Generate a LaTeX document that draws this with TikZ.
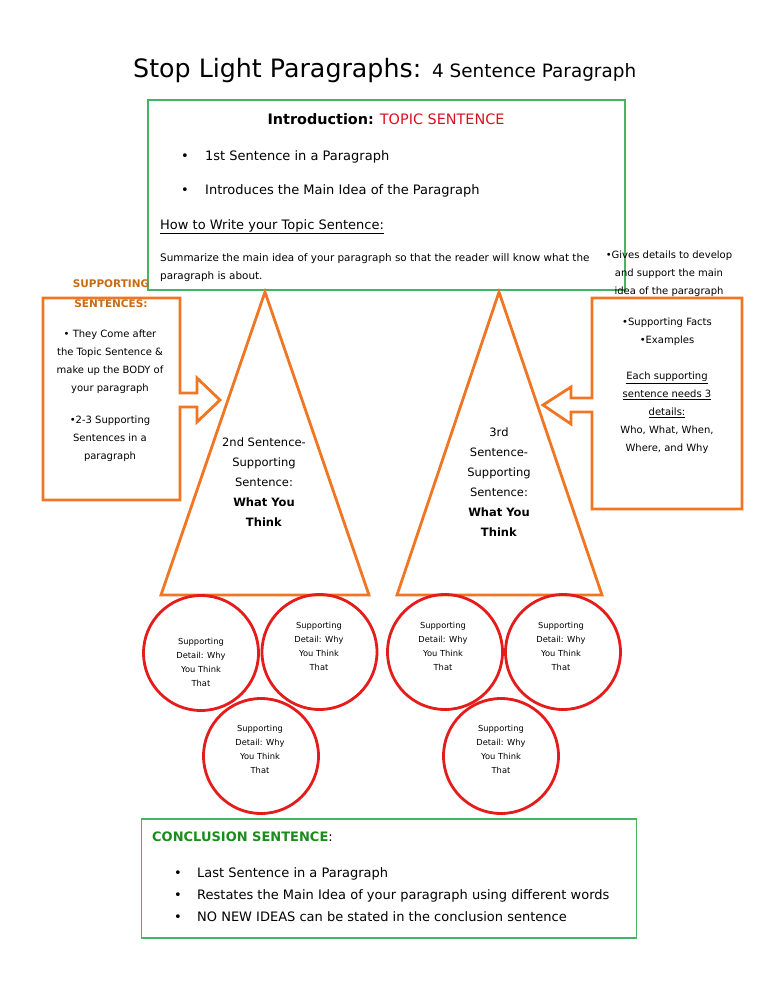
\documentclass[tikz,border=0pt]{standalone}
\usepackage{fontspec}
\setmainfont{DejaVu Sans}
\definecolor{boxgreen}{RGB}{70,180,100}
\definecolor{lineorange}{RGB}{240,118,36}
\definecolor{circred}{RGB}{228,28,28}
\definecolor{topicred}{RGB}{214,20,32}
\definecolor{suporange}{RGB}{200,108,20}
\definecolor{concgreen}{RGB}{28,140,28}
\tikzset{
  gbox/.style={draw=boxgreen, line width=1.3pt, minimum width=#1},
  oline/.style={draw=lineorange, line width=2.8pt, line join=miter},
  circ/.style={circle, draw=circred, line width=2.8pt, minimum size=115pt, inner sep=0pt},
  bodytxt/.style={inner sep=0pt, font=\fontsize{13}{16}\selectfont},
  smalltxt/.style={inner sep=0pt, align=center, font=\fontsize{10}{18}\selectfont},
  tritxt/.style={inner sep=0pt, align=center, font=\fontsize{11.5}{20}\selectfont},
  circtxt/.style={inner sep=0pt, align=center, font=\fontsize{8.3}{14}\selectfont},
}
\begin{document}
\begin{tikzpicture}[x=1pt,y=-1pt]
\useasboundingbox (0,0) rectangle (768,994);
\fill[white] (0,0) rectangle (768,994);

% title
\node[anchor=base west, inner sep=0pt] (title) at (133,77)
  {\fontsize{25.3}{30}\selectfont Stop Light Paragraphs:};
\node[anchor=base west, inner sep=0pt] (subtitle) at (432,77)
  {\fontsize{18.4}{24}\selectfont 4 Sentence Paragraph};

% top green box
\node[gbox=477pt, minimum height=190pt] (topbox) at (386.5,195) {};
\node[inner sep=0pt, font=\fontsize{14.4}{18}\selectfont] (intro) at (386,119)
  {\textbf{Introduction:} \textcolor{topicred}{TOPIC SENTENCE}};
\node[bodytxt, anchor=base west] (b1d) at (181,160) {•};
\node[bodytxt, anchor=base west] (b1) at (205,160) {1st Sentence in a Paragraph};
\node[bodytxt, anchor=base west] (b2d) at (181,194) {•};
\node[bodytxt, anchor=base west] (b2) at (205,194) {Introduces the Main Idea of the Paragraph};
\node[bodytxt, anchor=base west] (how) at (160,229) {\underline{How to Write your Topic Sentence:}};
\node[inner sep=0pt, anchor=base west, font=\fontsize{10.4}{14}\selectfont] (sum1) at (160,261)
  {Summarize the main idea of your paragraph so that the reader will know what the};
\node[inner sep=0pt, anchor=base west, font=\fontsize{10.4}{14}\selectfont] (sum2) at (160,279)
  {paragraph is about.};

% left supporting label
\node[inner sep=0pt, align=center, font=\fontsize{10.5}{20}\bfseries\selectfont, text=suporange] (suplab) at (111,294)
  {SUPPORTING\\SENTENCES:};

% left box with arrow
\draw[oline] (43,298) -- (180,298) -- (180,393) -- (197,393) -- (197,378) -- (220,400)
  -- (197,422) -- (197,407) -- (180,407) -- (180,500) -- (43,500) -- cycle;
\node[smalltxt] (ltxt1) at (110,362)
  {• They Come after\\the Topic Sentence \&\\make up the BODY of\\your paragraph};
\node[smalltxt] (ltxt2) at (110,439)
  {•2-3 Supporting\\Sentences in a\\paragraph};

% right box with arrow
\draw[oline] (592,298) -- (742,298) -- (742,509) -- (592,509) -- (592,412) -- (571,412)
  -- (571,424) -- (543,405) -- (571,387) -- (571,398) -- (592,398) -- cycle;
\node[smalltxt] (rtop) at (669,274)
  {•Gives details to develop\\and support the main\\idea of the paragraph};
\node[smalltxt] (rtxt1) at (667,332)
  {•Supporting Facts\\•Examples};
\node[smalltxt] (rtxt2) at (667,413)
  {\underline{Each supporting}\\\underline{sentence needs 3}\\\underline{details:}\\Who, What, When,\\Where, and Why};

% triangles
\draw[oline] (265,292) -- (369,595) -- (161,595) -- cycle;
\draw[oline] (499,292) -- (602,595) -- (397,595) -- cycle;
\node[tritxt] (t1) at (264,482)
  {2nd Sentence-\\Supporting\\Sentence:\\\textbf{What You}\\\textbf{Think}};
\node[tritxt] (t2) at (499,482)
  {3rd\\Sentence-\\Supporting\\Sentence:\\\textbf{What You}\\\textbf{Think}};

% circles
\node[circ] (c1) at (201,653) {};
\node[circ] (c2) at (319.5,652) {};
\node[circ] (c3) at (261,756) {};
\node[circ] (c4) at (445,652) {};
\node[circ] (c5) at (563,652) {};
\node[circ] (c6) at (501,756) {};
\node[circtxt] (c1t) at (201,662) {Supporting\\Detail: Why\\You Think\\That};
\node[circtxt] (c2t) at (319,646) {Supporting\\Detail: Why\\You Think\\That};
\node[circtxt] (c3t) at (260,749) {Supporting\\Detail: Why\\You Think\\That};
\node[circtxt] (c4t) at (443,646) {Supporting\\Detail: Why\\You Think\\That};
\node[circtxt] (c5t) at (561,646) {Supporting\\Detail: Why\\You Think\\That};
\node[circtxt] (c6t) at (501,749) {Supporting\\Detail: Why\\You Think\\That};

% conclusion box
\node[gbox=495pt, minimum height=119pt] (concbox) at (389,878.5) {};
\node[inner sep=0pt, anchor=base west, font=\fontsize{13}{16}\selectfont] (conct) at (152,841)
  {\textcolor{concgreen}{\textbf{CONCLUSION SENTENCE}}:};
\node[bodytxt, anchor=base west] (cb1d) at (174,877) {•};
\node[bodytxt, anchor=base west] (cb1) at (197,877) {Last Sentence in a Paragraph};
\node[bodytxt, anchor=base west] (cb2d) at (174,899) {•};
\node[bodytxt, anchor=base west] (cb2) at (197,899) {Restates the Main Idea of your paragraph using different words};
\node[bodytxt, anchor=base west] (cb3d) at (174,921) {•};
\node[bodytxt, anchor=base west] (cb3) at (197,921) {NO NEW IDEAS can be stated in the conclusion sentence};
\end{tikzpicture}
\end{document}
